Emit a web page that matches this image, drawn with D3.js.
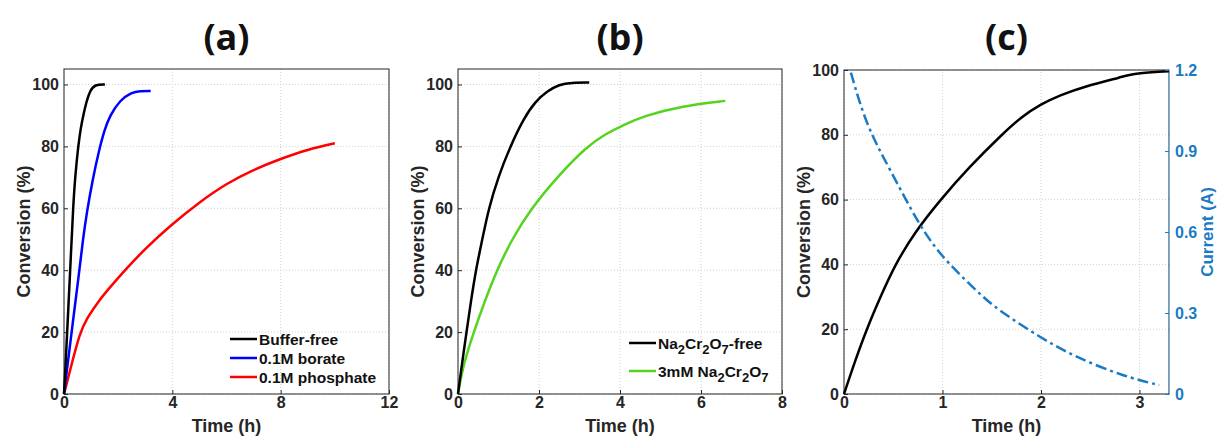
<!DOCTYPE html>
<html>
<head>
<meta charset="utf-8">
<script src="https://cdn.jsdelivr.net/npm/d3@7"></script>
<style>
  body { margin: 0; background: #fff; }
  text { font-family: "Liberation Sans", Arial, sans-serif; font-weight: bold; }
</style>
</head>
<body>
<script>
// panel (a)
let bufferFree = [[0,0],[0.05,8],[0.1,17],[0.15,26],[0.25,44],[0.34,61],[0.42,71],[0.53,80.5],[0.62,86],[0.71,90],[0.83,94.5],[0.96,98],[1.14,100],[1.51,100]]
let borate = [[0,0],[0.28,20],[0.57,40],[0.7,50],[0.84,58.5],[1.05,69],[1.3,79],[1.5,85.5],[1.7,90],[2.07,95],[2.5,97.5],[2.8,97.9],[3.2,97.9]]
let phosphate = [[0,0],[0.22,7.5],[0.59,20],[0.85,24.5],[1.27,30],[1.75,35],[2.25,40],[3,47],[3.91,54.3],[5,62],[6,68],[7,72.5],[8,76],[9,79],[10,81]]
// panel (b)
let crFree = [[0,0],[0.1,10],[0.21,20],[0.32,30],[0.44,40],[0.6,50],[0.76,60],[0.99,70],[1.29,80],[1.62,89],[1.91,94.5],[2.2,97.8],[2.5,100],[2.8,100.6],[3.24,100.6]]
let cr3mM = [[0,0],[0.14,10],[0.39,20],[0.66,30],[0.96,40],[1.33,50],[1.81,60],[2.44,70],[3.18,80],[3.64,84],[4.1,87],[4.58,89.8],[5.5,93],[6.6,94.7]]
// panel (c)
let convC = [[0,0],[0.11,10],[0.23,20],[0.37,30],[0.52,40],[0.72,50],[0.98,60],[1.27,70],[1.6,80],[1.8,85.5],[2.0,89.5],[2.2,92.3],[2.43,94.8],[2.84,98],[2.95,99],[3.3,99.6]]
let currentC = [[0.07,1.19],[0.23,0.99],[0.47,0.83],[0.77,0.62],[1.01,0.5],[1.38,0.37],[1.55,0.315],[1.99,0.21],[2.33,0.14],[2.84,0.065],[3.2,0.033]]

let ticksA = [0,4,8,12]
let ticksB = [0,2,4,6,8]
let ticksC = [0,1,2,3]
let ticksY = [0,20,40,60,80,100]
let ticksI = [0,0.3,0.6,0.9,1.2]

let svg = d3.select('body').append('svg')
  .attr('width', 1218).attr('height', 439)

let tickColor = '#262626'

function panel(opt) {
  let g = svg.append('g')
  let x = d3.scaleLinear().domain(opt.xdom).range([opt.left, opt.right])
  let y = d3.scaleLinear().domain(opt.ydom).range([394, opt.top])

  // grid
  g.selectAll('.gx').data(opt.xticks).enter().append('line')
    .attr('x1', d => x(d)).attr('x2', d => x(d))
    .attr('y1', 394).attr('y2', opt.top)
    .attr('stroke', '#d0d0d0').attr('stroke-dasharray', '1,2')
  g.selectAll('.gy').data(opt.yticks).enter().append('line')
    .attr('x1', opt.left).attr('x2', opt.right)
    .attr('y1', d => y(d)).attr('y2', d => y(d))
    .attr('stroke', '#d0d0d0').attr('stroke-dasharray', '1,2')

  // box
  g.append('rect')
    .attr('x', opt.left).attr('y', opt.top)
    .attr('width', opt.right - opt.left).attr('height', 394 - opt.top)
    .attr('fill', 'none').attr('stroke', '#262626').attr('stroke-width', 1)

  let xAxis = g.append('g').attr('transform', 'translate(0,394)')
    .call(d3.axisBottom(x).tickValues(opt.xticks).tickFormat(d3.format('d'))
      .tickSizeInner(-4).tickSizeOuter(0).tickPadding(3))
  let yAxis = g.append('g').attr('transform', `translate(${opt.left},0)`)
    .call(d3.axisLeft(y).tickValues(opt.yticks).tickSizeInner(-4).tickSizeOuter(0).tickPadding(5))
  for (let a of [xAxis, yAxis]) {
    a.select('.domain').remove()
    a.selectAll('text').attr('font-size', 16).attr('fill', tickColor)
      .style('font-family', '"Liberation Sans", Arial, sans-serif').style('font-weight', 'bold')
    a.selectAll('line').attr('stroke', tickColor)
  }

  g.append('text').attr('x', (opt.left + opt.right) / 2).attr('y', 432)
    .attr('text-anchor', 'middle').attr('font-size', 18).attr('fill', tickColor)
    .text('Time (h)')
  g.append('text')
    .attr('transform', `translate(${opt.left - 34},${(opt.top + 394) / 2}) rotate(-90)`)
    .attr('text-anchor', 'middle').attr('font-size', 18).attr('fill', tickColor)
    .text('Conversion (%)')

  g.append('text').attr('x', (opt.left + opt.right) / 2).attr('y', 50)
    .attr('text-anchor', 'middle').attr('font-size', 36).attr('fill', '#111')
    .style('font-family', '"Open Sans", sans-serif')
    .text(opt.title)

  let line = d3.line().x(d => x(d[0])).y(d => y(d[1])).curve(d3.curveBasis)
  for (let s of opt.series) {
    g.append('path').datum(s.data).attr('d', line)
      .attr('fill', 'none').attr('stroke', s.color).attr('stroke-width', 2.5)
  }
  return { g, x, y }
}

let pa = panel({ left: 64, right: 389, top: 69, xdom: [0, 12], ydom: [0, 105], xticks: ticksA, yticks: ticksY, title: '(a)',
  series: [{ data: phosphate, color: '#ff0000' }, { data: borate, color: '#0000ff' }, { data: bufferFree, color: '#000' }] })

let pb = panel({ left: 458, right: 782, top: 69, xdom: [0, 8], ydom: [0, 105], xticks: ticksB, yticks: ticksY, title: '(b)',
  series: [{ data: cr3mM, color: '#55d41e' }, { data: crFree, color: '#000' }] })

let pc = panel({ left: 844, right: 1169, top: 70, xdom: [0, 3.3], ydom: [0, 100], xticks: ticksC, yticks: ticksY, title: '(c)',
  series: [{ data: convC, color: '#000' }] })

// right axis for (c)
let blue = '#1a7ac4'
let yI = d3.scaleLinear().domain([0, 1.2]).range([394, 70])
let rAxis = pc.g.append('g').attr('transform', 'translate(1169,0)')
  .call(d3.axisRight(yI).tickValues(ticksI).tickFormat(d => d === 0 ? '0' : d3.format('.1f')(d))
    .tickSizeInner(-4).tickSizeOuter(0).tickPadding(6))
rAxis.select('.domain').attr('stroke', '#6fb0e0')
rAxis.selectAll('line').attr('stroke', blue)
rAxis.selectAll('text').attr('font-size', 16).attr('fill', blue)
  .style('font-family', '"Liberation Sans", Arial, sans-serif').style('font-weight', 'bold')
pc.g.append('text')
  .attr('transform', `translate(1213,232) rotate(-90)`)
  .attr('text-anchor', 'middle').attr('font-size', 17).attr('fill', blue)
  .text('Current (A)')
pc.g.append('path').datum(currentC)
  .attr('d', d3.line().x(d => pc.x(d[0])).y(d => yI(d[1])).curve(d3.curveBasis))
  .attr('fill', 'none').attr('stroke', blue).attr('stroke-width', 2.5)
  .attr('stroke-dasharray', '11,4,3,4')

// legends
function legend(g, x0, rows) {
  rows.forEach((r, i) => {
    g.append('line').attr('x1', x0).attr('x2', x0 + 27)
      .attr('y1', r.y).attr('y2', r.y).attr('stroke', r.color).attr('stroke-width', 2.5)
    let t = g.append('text').attr('x', x0 + 29).attr('y', r.y + 5.5)
      .attr('font-size', 15.5).attr('fill', '#111')
    r.parts.forEach(p => {
      if (p.sub) t.append('tspan').attr('baseline-shift', '-35%').attr('font-size', 13).text(p.sub)
      else t.append('tspan').text(p.t)
    })
  })
}

legend(pa.g, 230, [
  { y: 339, color: '#000', parts: [{ t: 'Buffer-free' }] },
  { y: 358, color: '#0000ff', parts: [{ t: '0.1M borate' }] },
  { y: 377, color: '#ff0000', parts: [{ t: '0.1M phosphate' }] }
])
legend(pb.g, 629, [
  { y: 343, color: '#000', parts: [{ t: 'Na' }, { sub: '2' }, { t: 'Cr' }, { sub: '2' }, { t: 'O' }, { sub: '7' }, { t: '-free' }] },
  { y: 371, color: '#55d41e', parts: [{ t: '3mM Na' }, { sub: '2' }, { t: 'Cr' }, { sub: '2' }, { t: 'O' }, { sub: '7' }] }
])
</script>
</body>
</html>
